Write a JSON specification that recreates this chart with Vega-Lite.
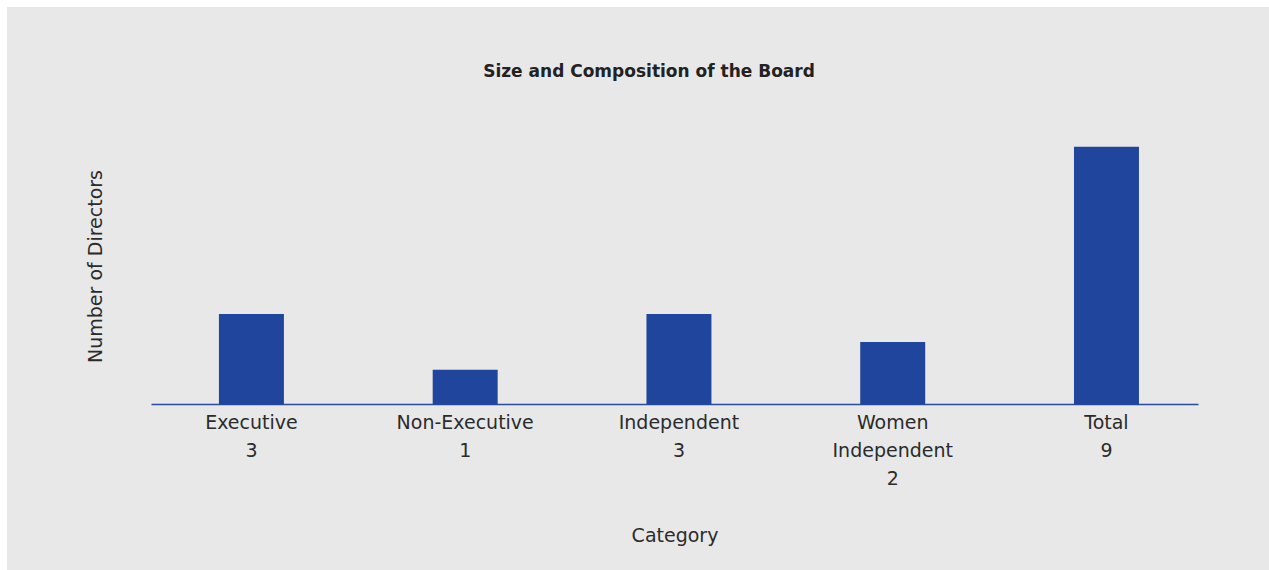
{
  "$schema": "https://vega.github.io/schema/vega-lite/v6.json",
  "width": 1262,
  "height": 563,
  "autosize": {"type": "none"},
  "padding": {"left": 7, "top": 7, "right": 0, "bottom": 0},
  "background": "#ffffff",
  "title": {
    "text": "Size and Composition of the Board",
    "font": "DejaVu Sans",
    "fontSize": 17,
    "fontWeight": "bold",
    "color": "#222222",
    "anchor": "middle",
    "frame": "group",
    "offset": -74,
    "dx": 11
  },
  "data": {
    "values": [
      {"category": "Executive", "directors": 3},
      {"category": "Non-Executive", "directors": 1},
      {"category": "Independent", "directors": 3},
      {"category": "Women Independent", "directors": 2},
      {"category": "Total", "directors": 9}
    ]
  },
  "transform": [
    {"calculate": "datum.category + ' ' + datum.directors", "as": "label"}
  ],
  "mark": {"type": "bar", "color": "#20459c"},
  "encoding": {
    "x": {
      "field": "label",
      "type": "nominal",
      "sort": null,
      "title": "Category",
      "scale": {"range": [144, 1191], "paddingInner": 0.696, "paddingOuter": 0.297, "align": 0.535},
      "axis": {
        "orient": "bottom",
        "offset": -166,
        "labelAngle": 0,
        "labelExpr": "split(datum.value, ' ')",
        "labelLineHeight": 28,
        "labelFont": "DejaVu Sans",
        "labelFontSize": 19,
        "labelColor": "#2b2b2b",
        "labelPadding": 9,
        "ticks": false,
        "domainColor": "#2a4a9f",
        "domainWidth": 1.5,
        "titleFont": "DejaVu Sans",
        "titleFontSize": 19,
        "titleFontWeight": "normal",
        "titleColor": "#2b2b2b",
        "titlePadding": 38
      }
    },
    "y": {
      "field": "directors",
      "type": "quantitative",
      "title": "Number of Directors",
      "scale": {"domain": [-0.246, 9.69], "range": [397.5, 120.5], "zero": false, "nice": false},
      "axis": {
        "orient": "left",
        "offset": -98,
        "labels": false,
        "ticks": false,
        "domain": false,
        "grid": false,
        "titlePadding": 0,
        "titleFont": "DejaVu Sans",
        "titleFontSize": 19,
        "titleFontWeight": "normal",
        "titleColor": "#2b2b2b"
      }
    },
    "y2": {"datum": -0.246}
  },
  "config": {
    "view": {"fill": "#e8e8e8", "stroke": null}
  }
}
